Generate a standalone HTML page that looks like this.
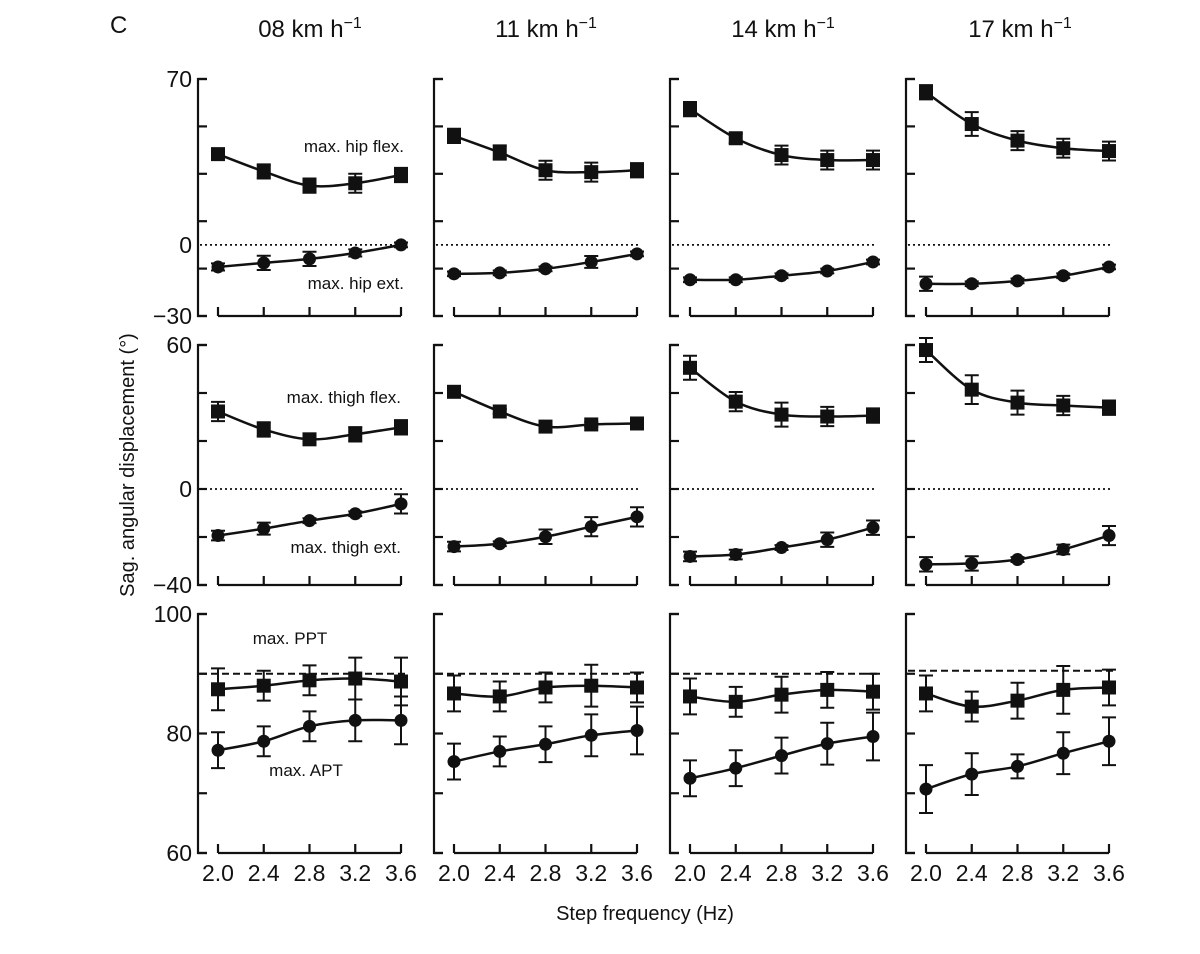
<!DOCTYPE html>
<html><head><meta charset="utf-8"><style>
html,body{margin:0;padding:0;background:#fff;}
svg{display:block;font-family:"Liberation Sans",Arial,sans-serif;}
</style></head><body>
<svg id="fig" width="1200" height="954" viewBox="0 0 1200 954"></svg>
<script>
const freqs=[2.0,2.4,2.8,3.2,3.6];
const xTickLabels=["2.0","2.4","2.8","3.2","3.6"];
const speeds=["08","11","14","17"];
// row 1: hip
const hipFlex=[[38.3,31,25,26,29.5],[46,39,31.5,30.7,31.5],[57.3,45,37.9,35.8,35.8],[64.4,51,44,40.8,39.6]];
const hipFlexErr=[[1.5,3,3,4,3],[3,3,4,4,3],[3,2,4,4,4],[3,5,4,4,4]];
const hipExt=[[-9.3,-7.6,-5.9,-3.4,0],[-12.2,-11.8,-10.1,-7.2,-3.8],[-14.7,-14.7,-13,-11,-7.2],[-16.4,-16.4,-15.2,-13,-9.3]];
const hipExtErr=[[1.5,3,3,1.5,1],[1,1,1,2.5,1],[1,1,1,1,1],[3,1,1,1,1]];
// row 2: thigh
const thighFlex=[[32.3,24.8,20.7,22.8,25.7],[40.5,32.3,26,26.9,27.3],[50.5,36.4,31,30.2,30.6],[57.9,41.4,36,34.8,33.9]];
const thighFlexErr=[[4,3,2,3,3],[1,1,1,1,1],[5,4,5,4,3],[5,6,5,4,3]];
const thighExt=[[-19.4,-16.5,-13.2,-10.3,-6.2],[-24,-22.8,-19.9,-15.7,-11.6],[-28.1,-27.3,-24.4,-21.1,-16.1],[-31.4,-31,-29.4,-25.2,-19.4]];
const thighExtErr=[[2,2.5,1,1,4],[2,1,3,4,4],[2,2,1,3,3],[3,3,1,2,4]];
// row 3: pelvic tilt
const ppt=[[87.4,88,88.9,89.2,88.7],[86.7,86.2,87.7,88,87.7],[86.2,85.3,86.5,87.3,87],[86.7,84.5,85.5,87.3,87.7]];
const pptErr=[[3.5,2.5,2.5,3.5,4],[3,2.5,2.5,3.5,2.5],[3,2.5,3,3,3],[3,2.5,3,4,3]];
const apt=[[77.2,78.7,81.2,82.2,82.2],[75.3,77,78.2,79.7,80.5],[72.5,74.2,76.3,78.3,79.5],[70.7,73.2,74.5,76.7,78.7]];
const aptErr=[[3,2.5,2.5,3.5,4],[3,2.5,3,3.5,4],[3,3,3,3.5,4],[4,3.5,2,3.5,4]];
const refLine=[[90,90,90,90.5],[0,0,0,0],[0,0,0,0]];

const svg=document.getElementById('fig');
const NS='http://www.w3.org/2000/svg';
function mk(tag,attrs,parent){const e=document.createElementNS(NS,tag);for(const k in attrs)e.setAttribute(k,attrs[k]);(parent||svg).appendChild(e);return e;}
function txt(s,x,y,size,anchor,parent){const t=mk('text',{x:x,y:y,'font-size':size,'text-anchor':anchor||'middle',fill:'#111'},parent);t.textContent=s;return t;}

const colAxisX=[198,434,670,906];
const rows=[
 {top:79,bot:316,min:-30,max:70,ticks:[70,50,30,10,-10,-30],labels:[70,0,-30],ref:0,dash:'2,3',series:[[hipFlex,hipFlexErr,'sq','hip-flex'],[hipExt,hipExtErr,'ci','hip-ext']],name:'hip'},
 {top:345,bot:585,min:-40,max:60,ticks:[60,40,20,0,-20,-40],labels:[60,0,-40],ref:0,dash:'2,3',series:[[thighFlex,thighFlexErr,'sq','thigh-flex'],[thighExt,thighExtErr,'ci','thigh-ext']],name:'thigh'},
 {top:614,bot:853,min:60,max:100,ticks:[100,90,80,70,60],labels:[100,80,60],ref:90,dash:'7,4',series:[[ppt,pptErr,'sq','ppt'],[apt,aptErr,'ci','apt']],name:'pelvis'}
];

function curve(pts){
  let d='M'+pts[0][0]+','+pts[0][1];
  for(let i=0;i<pts.length-1;i++){
    const p0=pts[Math.max(0,i-1)],p1=pts[i],p2=pts[i+1],p3=pts[Math.min(pts.length-1,i+2)];
    const t=0.5/3;
    d+=' C'+(p1[0]+(p2[0]-p0[0])*t)+','+(p1[1]+(p2[1]-p0[1])*t)+' '+(p2[0]-(p3[0]-p1[0])*t)+','+(p2[1]-(p3[1]-p1[1])*t)+' '+p2[0]+','+p2[1];
  }
  return d;
}

rows.forEach((r,ri)=>{
  const ys=v=>r.bot-(v-r.min)/(r.max-r.min)*(r.bot-r.top);
  colAxisX.forEach((ax,ci)=>{
    const g=mk('g',{});
    
    
    const xs=f=>ax+20+(f-2.0)/1.6*183;
    const ya=mk('path',{d:'M'+(ax+9)+','+r.top+' H'+ax+' V'+r.bot+' H'+(ax+9),stroke:'#111','stroke-width':2.2,fill:'none'},g);
    
    
    r.ticks.forEach(t=>{mk('line',{x1:ax,x2:ax+9,y1:ys(t),y2:ys(t),stroke:'#111','stroke-width':2.2},g);});
    if(ci===0){r.labels.forEach(l=>{const tl=txt(String(l).replace('-','\u2212'),ax-6,ys(l)+8,23,'end',g);});}
    const xa=mk('line',{x1:xs(2.0),x2:xs(3.6),y1:r.bot,y2:r.bot,stroke:'#111','stroke-width':2.2},g);
    
    
    freqs.forEach((f,i)=>{
      mk('line',{x1:xs(f),x2:xs(f),y1:r.bot,y2:r.bot-9,stroke:'#111','stroke-width':2.2},g);
      if(ri===2){const tl=txt(xTickLabels[i],xs(f),r.bot+28,23,'middle',g);}
    });
    const rv=ri===2?refLine[0][ci]:r.ref;
    const rl=mk('line',{x1:ax+2,x2:xs(3.6)+4,y1:ys(rv),y2:ys(rv),stroke:'#111','stroke-width':ri===2?2:1.8,'stroke-dasharray':r.dash},g);
    
    
    r.series.forEach(s=>{
      const vals=s[0][ci],errs=s[1][ci];
      const pts=vals.map((v,i)=>[xs(freqs[i]),ys(v)]);
      const ln=mk('path',{d:curve(pts),stroke:'#111','stroke-width':2.5,fill:'none'},g);
      
      
      vals.forEach((v,i)=>{
        const x=xs(freqs[i]),y1=ys(v+errs[i]),y2=ys(v-errs[i]);
        const eb=mk('path',{d:'M'+x+','+y1+' V'+y2+' M'+(x-7)+','+y1+' H'+(x+7)+' M'+(x-7)+','+y2+' H'+(x+7),stroke:'#111','stroke-width':2,fill:'none'},g);
        
        
        let m;
        if(s[2]==='sq'){m=mk('rect',{x:x-7,y:ys(v)-7,width:14,height:14,fill:'#111'},g);}
        else{m=mk('circle',{cx:x,cy:ys(v),r:6.5,fill:'#111'},g);}
        
        
      });
    });
  });
});

const hx=[310,546,783,1020];
speeds.forEach((s,i)=>{
  const t=mk('text',{x:hx[i],y:37,'font-size':24,'text-anchor':'middle',fill:'#111'});
  
  
  t.appendChild(document.createTextNode(s+' km h'));
  const sp=mk('tspan',{dy:-9,'font-size':16},t);sp.textContent='\u22121';
});
const annos=[["C",110,33,24,'start','panel-letter'],["max. hip flex.",404,152,17,'end','label-hip-flex'],["max. hip ext.",404,289,17,'end','label-hip-ext'],
["max. thigh flex.",401,403,17,'end','label-thigh-flex'],["max. thigh ext.",401,553,17,'end','label-thigh-ext'],
["max. PPT",290,644,17,'middle','label-ppt'],["max. APT",306,776,17,'middle','label-apt'],
["Step frequency (Hz)",645,920,20,'middle','x-axis-title']];
annos.forEach(a=>{const t=txt(a[0],a[1],a[2],a[3],a[4]);});
const yt=mk('text',{x:0,y:0,'font-size':20,'text-anchor':'middle',fill:'#111',transform:'translate(134,465) rotate(-90)'});
yt.textContent='Sag. angular displacement (\u00b0)';


</script>
</body></html>
